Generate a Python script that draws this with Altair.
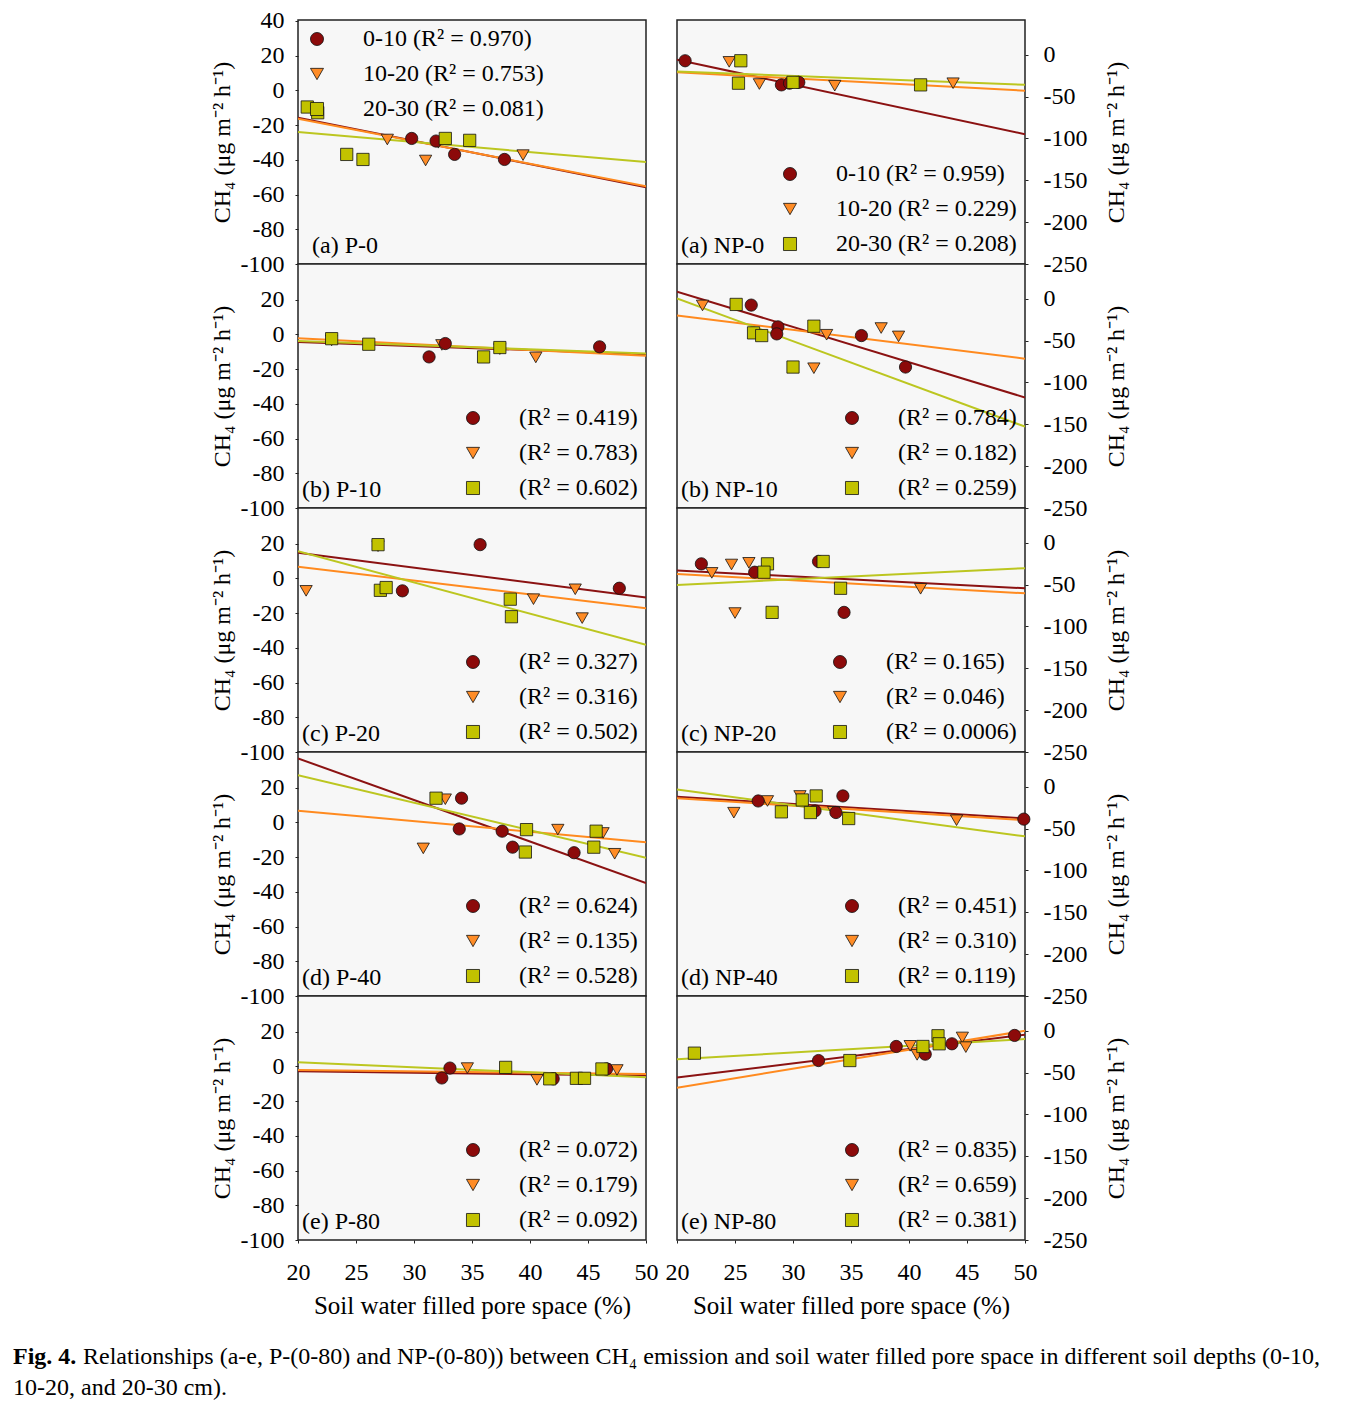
import altair as alt
import pandas as pd

FONT = "Liberation Serif"
DEPTHS = ["0-10", "10-20", "20-30"]
FILL_COLORS = ["#8c0a0a", "#ff8c26", "#c2c200"]
OUTLINE_COLORS = ["#111111", "#111111", "#111111"]
LINE_COLORS = ["#8b1212", "#ff8a1f", "#bcc620"]
SHAPES = ["circle", "triangle-down", "square"]
X_TICKS = [20, 25, 30, 35, 40, 45, 50]
FIT_X = [20, 50]
LEFT_TICKS_TOP = [-100, -80, -60, -40, -20, 0, 20, 40]
LEFT_TICKS = [-100, -80, -60, -40, -20, 0, 20]
RIGHT_TICKS = [-250, -200, -150, -100, -50, 0]
Y_TITLE = "CH\u2084 (\u03bcg m\u207b\u00b2 h\u207b\u00b9)"
X_TITLE = "Soil water filled pore space (%)"
PLAIN_LABEL = "'' + datum.value"

# ---- P-0 ----
P0_D1 = [(29.8, -27.7), (31.9, -29.2), (33.5, -36.9), (37.8, -39.8)]
P0_D2 = [(27.7, -28.3), (31.0, -40.4), (32.1, -30.2), (39.4, -37.3)]
P0_D3 = [(20.8, -9.6), (21.7, -12.9), (24.2, -36.9), (25.6, -39.8), (32.7, -27.7), (34.8, -28.8)]
P0_FIT = [(-15.8, -55.8), (-16.3, -55.2), (-24.0, -41.3)]
P0_R2 = ["0.970", "0.753", "0.081"]
# ---- NP-0 ----
NP0_D1 = [(20.7, -7.2), (29.0, -36.0), (29.7, -34.0), (30.5, -33.0)]
NP0_D2 = [(24.5, -8.5), (27.1, -35.0), (33.6, -37.0), (43.8, -34.0)]
NP0_D3 = [(25.5, -7.2), (25.3, -34.0), (30.0, -33.0), (41.0, -36.0)]
NP0_FIT = [(-6.0, -95.0), (-21.0, -43.0), (-20.0, -36.0)]
NP0_R2 = ["0.959", "0.229", "0.208"]
# ---- P-10 ----
P10_D1 = [(31.3, -13.0), (32.7, -5.3), (46.0, -7.2)]
P10_D2 = [(22.9, -3.5), (32.4, -6.1), (37.4, -8.5), (40.5, -13.3)]
P10_D3 = [(22.9, -2.5), (26.1, -5.7), (36.0, -13.0), (37.4, -7.6)]
P10_FIT = [(-4.4, -11.4), (-2.3, -12.4), (-3.8, -11.0)]
P10_R2 = ["0.419", "0.783", "0.602"]
# ---- NP-10 ----
NP10_D1 = [(26.4, -7.6), (28.7, -33.6), (28.6, -42.0), (35.9, -44.0), (39.7, -81.6)]
NP10_D2 = [(22.2, -8.0), (32.9, -43.0), (31.8, -83.0), (37.6, -35.0), (39.1, -45.0)]
NP10_D3 = [(25.1, -6.8), (26.6, -40.8), (27.3, -44.0), (31.8, -32.8), (30.0, -81.6)]
NP10_FIT = [(8.4, -118.0), (-20.0, -71.6), (0.4, -152.8)]
NP10_R2 = ["0.784", "0.182", "0.259"]
# ---- P-20 ----
P20_D1 = [(35.7, 19.4), (29.0, -7.2), (47.7, -5.7)]
P20_D2 = [(20.7, -7.2), (26.9, 18.5), (40.3, -12.0), (43.9, -6.3), (44.5, -22.9)]
P20_D3 = [(26.9, 19.4), (27.1, -6.9), (27.6, -5.3), (38.3, -12.0), (38.4, -22.1)]
P20_FIT = [(14.7, -11.0), (6.7, -17.3), (15.6, -38.3)]
P20_R2 = ["0.327", "0.316", "0.502"]
# ---- NP-20 ----
NP20_D1 = [(22.1, -25.2), (26.7, -35.2), (32.2, -22.4), (34.4, -83.2)]
NP20_D2 = [(23.0, -36.0), (24.7, -26.0), (26.2, -24.0), (25.0, -84.0), (41.0, -55.0)]
NP20_D3 = [(27.8, -25.2), (27.5, -35.2), (32.6, -22.4), (34.1, -54.4), (28.2, -83.2)]
NP20_FIT = [(-33.2, -54.4), (-37.2, -60.4), (-50.4, -30.4)]
NP20_R2 = ["0.165", "0.046", "0.0006"]
# ---- P-40 ----
P40_D1 = [(34.1, 13.9), (33.9, -3.8), (37.6, -5.1), (38.5, -14.3), (43.8, -17.5)]
P40_D2 = [(30.8, -15.0), (32.7, 13.3), (42.4, -4.2), (46.3, -6.1), (47.3, -18.1)]
P40_D3 = [(31.9, 13.9), (39.7, -4.2), (45.7, -5.1), (45.5, -14.3), (39.6, -17.1)]
P40_FIT = [(36.8, -35.0), (6.7, -11.4), (27.2, -20.4)]
P40_R2 = ["0.624", "0.135", "0.528"]
# ---- NP-40 ----
NP40_D1 = [(27.0, -17.0), (34.3, -11.0), (31.9, -28.9), (33.7, -30.8), (49.9, -38.7)]
NP40_D2 = [(24.9, -31.0), (27.8, -17.0), (30.6, -11.0), (33.5, -30.0), (44.1, -40.0)]
NP40_D3 = [(29.0, -30.0), (30.8, -15.8), (32.0, -11.0), (31.5, -30.8), (34.8, -38.0)]
NP40_FIT = [(-11.9, -37.9), (-13.8, -39.9), (-3.2, -59.3)]
NP40_R2 = ["0.451", "0.310", "0.119"]
# ---- P-80 ----
P80_D1 = [(33.1, -1.0), (32.4, -6.7), (42.0, -7.2), (46.6, -1.5)]
P80_D2 = [(34.6, -1.0), (40.6, -7.8), (47.5, -2.1), (46.4, -1.5)]
P80_D3 = [(37.9, -0.6), (41.7, -7.2), (44.0, -6.9), (44.7, -6.9), (46.2, -1.5)]
P80_FIT = [(-2.9, -5.3), (-2.1, -4.4), (2.3, -6.3)]
P80_R2 = ["0.072", "0.179", "0.092"]
# ---- NP-80 ----
NP80_D1 = [(32.2, -35.6), (38.9, -18.8), (41.4, -28.0), (43.7, -15.6), (49.1, -5.6)]
NP80_D2 = [(40.1, -18.0), (40.7, -28.8), (44.6, -8.0), (44.9, -19.6)]
NP80_D3 = [(21.5, -26.8), (34.9, -35.6), (41.2, -18.8), (42.5, -6.0), (42.6, -15.6)]
NP80_FIT = [(-56.0, -4.8), (-68.0, 0.0), (-34.0, -10.0)]
NP80_R2 = ["0.835", "0.659", "0.381"]

LEFT_PANELS = [
    ("(a) P-0", [P0_D1, P0_D2, P0_D3], P0_FIT, P0_R2, True),
    ("(b) P-10", [P10_D1, P10_D2, P10_D3], P10_FIT, P10_R2, False),
    ("(c) P-20", [P20_D1, P20_D2, P20_D3], P20_FIT, P20_R2, False),
    ("(d) P-40", [P40_D1, P40_D2, P40_D3], P40_FIT, P40_R2, False),
    ("(e) P-80", [P80_D1, P80_D2, P80_D3], P80_FIT, P80_R2, False),
]
RIGHT_PANELS = [
    ("(a) NP-0", [NP0_D1, NP0_D2, NP0_D3], NP0_FIT, NP0_R2, True),
    ("(b) NP-10", [NP10_D1, NP10_D2, NP10_D3], NP10_FIT, NP10_R2, False),
    ("(c) NP-20", [NP20_D1, NP20_D2, NP20_D3], NP20_FIT, NP20_R2, False),
    ("(d) NP-40", [NP40_D1, NP40_D2, NP40_D3], NP40_FIT, NP40_R2, False),
    ("(e) NP-80", [NP80_D1, NP80_D2, NP80_D3], NP80_FIT, NP80_R2, False),
]

CAPTION_BOLD = "Fig. 4."
CAPTION_LINE1 = ("Relationships (a-e, P-(0-80) and NP-(0-80)) between CH\u2084 emission and soil "
                 "water filled pore space in different soil depths (0-10,")
CAPTION_LINE2 = "10-20, and 20-30 cm)."

W, H = 348, 244


def make_panel(tag, series, fit, r2, with_depth, side, row):
    labels = [(d + " " if with_depth else "") + "(R\u00b2 = " + r + ")" for d, r in zip(DEPTHS, r2)]
    rows = []
    for idx in [1, 0, 2]:
        for x, y in series[idx]:
            rows.append({"x": x, "y": y, "label": labels[idx]})
    pts = pd.DataFrame(rows)
    lrows = []
    for d, (y0, y1) in zip(DEPTHS, fit):
        lrows.append({"x": FIT_X[0], "y": y0, "depth": d})
        lrows.append({"x": FIT_X[1], "y": y1, "depth": d})
    lines = pd.DataFrame(lrows)

    bottom = row == 4
    if bottom:
        xaxis = alt.Axis(values=X_TICKS, title=X_TITLE, tickSize=3, labelPadding=17,
                         titlePadding=9, domain=False, grid=False, titleFontSize=25)
    else:
        xaxis = None
    xenc = alt.X("x:Q", scale=alt.Scale(domain=[20, 50], nice=False, zero=False), axis=xaxis)

    if side == "left":
        yaxis = alt.Axis(orient="left", values=LEFT_TICKS_TOP if row == 0 else LEFT_TICKS,
                         labelExpr=PLAIN_LABEL, title=Y_TITLE, titleAngle=270, tickSize=3,
                         labelPadding=11, titlePadding=6, domain=False, grid=False)
        ydom = [-100, 40.5]
    else:
        yaxis = alt.Axis(orient="right", values=RIGHT_TICKS, labelExpr=PLAIN_LABEL,
                         title=Y_TITLE, titleAngle=270, titleBaseline="top", tickSize=3,
                         labelPadding=15, titlePadding=18, domain=False, grid=False,
                         labelAlign="left")
        ydom = [-250, 41.5]
    yenc = alt.Y("y:Q", scale=alt.Scale(domain=ydom, nice=False, zero=False), axis=yaxis)

    legend_style = dict(title=None, symbolStrokeWidth=0.8,
                        symbolSize=170, symbolOpacity=1, labelFont=FONT, labelFontSize=24,
                        labelLimit=500, rowPadding=11, labelOffset=34, padding=0)
    if side == "left" and row == 0:
        leg = alt.Legend(orient="top-left", offset=7, **legend_style)
    else:
        leg = alt.Legend(orient="bottom-right", offset=8, **legend_style)

    line_layer = alt.Chart(lines).mark_line(strokeWidth=2, clip=True).encode(
        x=xenc, y=yenc,
        color=alt.Color("depth:N", scale=alt.Scale(domain=DEPTHS, range=LINE_COLORS), legend=None),
    )
    pt_layer = alt.Chart(pts).mark_point(size=150, strokeWidth=0.8,
                                         fillOpacity=1, strokeOpacity=1, opacity=1).encode(
        x=xenc, y=yenc,
        fill=alt.Fill("label:N", scale=alt.Scale(domain=labels, range=FILL_COLORS), legend=leg),
        stroke=alt.Stroke("label:N", scale=alt.Scale(domain=labels, range=OUTLINE_COLORS), legend=leg),
        shape=alt.Shape("label:N", scale=alt.Scale(domain=labels, range=SHAPES), legend=leg),
    )
    tx = 14 if tag == "(a) P-0" else 4
    tag_layer = alt.Chart(pd.DataFrame({"t": [tag]})).mark_text(
        align="left", baseline="alphabetic", font=FONT, fontSize=24, color="black"
    ).encode(x=alt.value(tx), y=alt.value(233), text="t:N")

    layers = [line_layer, pt_layer, tag_layer]
    if side == "left" and bottom:
        cap_bold = alt.Chart(pd.DataFrame({"t": [CAPTION_BOLD]})).mark_text(
            align="left", baseline="middle", font=FONT, fontSize=24, fontWeight="bold", color="black"
        ).encode(x=alt.value(-285), y=alt.value(H + 117), text="t:N")
        cap_l1 = alt.Chart(pd.DataFrame({"t": [CAPTION_LINE1]})).mark_text(
            align="left", baseline="middle", font=FONT, fontSize=24, color="black"
        ).encode(x=alt.value(-215), y=alt.value(H + 117), text="t:N")
        cap_l2 = alt.Chart(pd.DataFrame({"t": [CAPTION_LINE2]})).mark_text(
            align="left", baseline="middle", font=FONT, fontSize=24, color="black"
        ).encode(x=alt.value(-285), y=alt.value(H + 148), text="t:N")
        layers += [cap_bold, cap_l1, cap_l2]

    return alt.layer(*layers).properties(width=W, height=H)


panels = []
for i in range(5):
    panels.append(make_panel(*LEFT_PANELS[i], "left", i))
    panels.append(make_panel(*RIGHT_PANELS[i], "right", i))

chart = alt.concat(
    *panels, columns=2, spacing={"row": 0, "column": 31}, bounds="flush"
).resolve_scale(
    fill="independent", shape="independent", stroke="independent", color="independent",
    y="independent", x="independent"
).properties(
    padding={"left": 4, "top": 0, "right": 5, "bottom": 5}, background="white"
).configure_view(
    stroke="#222222", strokeWidth=1.5, fill="#f7f7f7"
).configure_axis(
    labelFont=FONT, labelFontSize=24, labelColor="black", titleFont=FONT, titleFontSize=24,
    titleFontWeight="normal", titleColor="black", tickColor="#222222", labelFlush=False,
    labelOverlap=False
).configure_legend(
    labelFont=FONT, labelFontSize=24, labelColor="black", labelLimit=500
)

chart.save("out.html", embed_options={"renderer": "svg", "actions": False})
